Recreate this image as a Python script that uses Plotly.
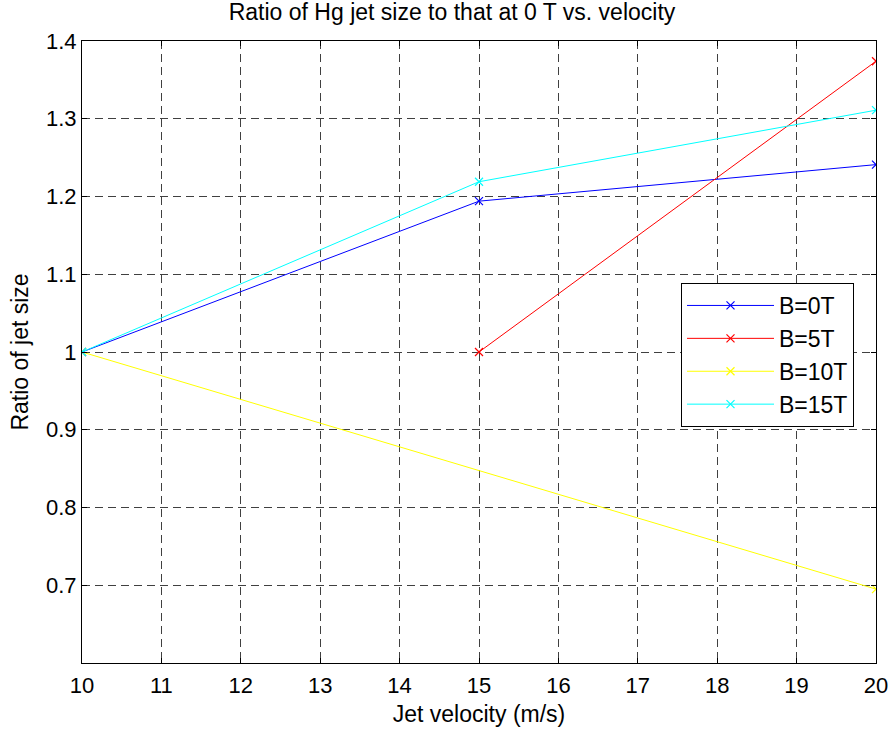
import plotly.graph_objects as go

x_b0 = [10, 15, 20]
y_b0 = [1.0, 1.194, 1.241]
x_b5 = [15, 20]
y_b5 = [1.0, 1.374]
x_b10 = [10, 20]
y_b10 = [1.0, 0.695]
x_b15 = [10, 15, 20]
y_b15 = [1.0, 1.219, 1.311]

series = [
    ("B=0T", x_b0, y_b0, "#0000ff"),
    ("B=5T", x_b5, y_b5, "#ff0000"),
    ("B=10T", x_b10, y_b10, "#ffff00"),
    ("B=15T", x_b15, y_b15, "#00ffff"),
]

fig = go.Figure()
for name, xs, ys, c in series:
    fig.add_trace(go.Scatter(
        x=xs, y=ys, name=name, mode="lines+markers",
        line=dict(color=c, width=1),
        marker=dict(symbol="x-thin", size=8, line=dict(color=c, width=1.2), color=c),
    ))

font = "Liberation Sans, Arial, sans-serif"
FS = 22
axis_common = dict(
    showline=True, linecolor="black", linewidth=1, mirror="ticks",
    ticks="inside", ticklen=5, tickcolor="black",
    showgrid=True, gridcolor="#404040", gridwidth=1, griddash="8px,5px",
    zeroline=False, tickfont=dict(family=font, size=FS, color="black"),
    automargin=False, ticklabeloverflow="allow",
)
fig.update_xaxes(range=[10, 20], dtick=1, tick0=10, ticklabelstandoff=3,
                 title=dict(text="Jet velocity (m/s)", font=dict(family=font, size=23, color="black"), standoff=8),
                 **axis_common)
fig.update_yaxes(range=[0.6, 1.4], tickvals=[0.7, 0.8, 0.9, 1.0, 1.1, 1.2, 1.3, 1.4],
                 ticktext=["0.7", "0.8", "0.9", "1", "1.1", "1.2", "1.3", "1.4"],
                 title=dict(text="Ratio of jet size", font=dict(family=font, size=23, color="black"), standoff=10),
                 **axis_common)

fig.update_layout(
    width=888, height=730, autosize=False,
    margin=dict(l=82, r=12, t=41, b=67),
    paper_bgcolor="white", plot_bgcolor="white",
    title=dict(text="Ratio of Hg jet size to that at 0 T vs. velocity",
               font=dict(family=font, size=23, color="black"),
               x=452 / 888, xanchor="center", xref="container",
               y=1 - 11.5 / 730, yanchor="middle", yref="container",
               automargin=False),
    legend=dict(x=(681 - 82) / 794, y=(663 - 283) / 622, xanchor="left", yanchor="top",
                bgcolor="white", bordercolor="black", borderwidth=1,
                font=dict(family=font, size=23, color="black"),
                itemwidth=87),
    showlegend=True,
)

fig.write_html(
    "out.html",
    config={"displayModeBar": False, "responsive": False},
    post_script="document.body.style.margin='0';document.body.style.overflow='hidden';",
)
